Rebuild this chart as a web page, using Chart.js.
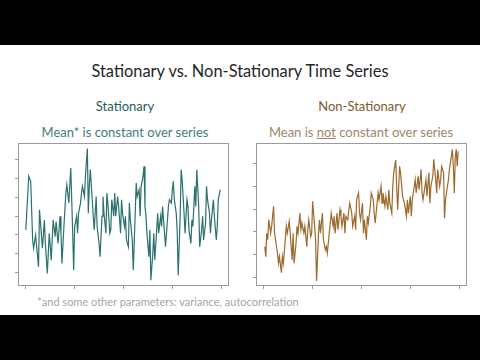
<!DOCTYPE html>
<html>
<head>
<meta charset="utf-8">
<script src="https://cdn.jsdelivr.net/npm/chart.js@4"></script>
<style>
    body { margin: 0; width: 480px; height: 360px; background: #000; position: relative; overflow: hidden; font-family: Lato, "Open Sans", sans-serif; }
    #slide { position: absolute; left: 0; top: 45px; width: 480px; height: 270px; background: #fff; }
    .txt { position: absolute; transform: translate(-50%, -50%); white-space: nowrap; }
    canvas { position: absolute; }
</style>
</head>
<body>
<div id="slide"></div>
<div class="txt" style="left:240px; top:70px; font-size:16.4px; color:#262626;">Stationary vs. Non-Stationary Time Series</div>
<div class="txt" style="left:125px; top:106px; font-size:13px; color:#1f5d5a;">Stationary</div>
<div class="txt" style="left:125px; top:132px; font-size:13px; color:#3f7d78;">Mean* is constant over series</div>
<div class="txt" style="left:362px; top:106px; font-size:13px; color:#7c5b2c;">Non-Stationary</div>
<div class="txt" style="left:361px; top:132px; font-size:13px; color:#a08566;">Mean is <u>not</u> constant over series</div>
<div class="txt" style="left:168px; top:301px; font-size:11px; color:#a5a5a5;">*and some other parameters: variance, autocorrelation</div>

<canvas id="leftChart" width="240" height="160" style="left:0px; top:140px;"></canvas>
<canvas id="rightChart" width="240" height="160" style="left:240px; top:140px;"></canvas>

<script>
// time index ticks (labels hidden, like the slide)
const xTicks = [0, 50, 100, 150, 200];
const leftYTicks = [-3, -2, -1, 0, 1, 2, 3];
const rightYTicks = [0, 1, 2, 3, 4, 5];

// stationary series
const stationaryT = [0, 3, 5, 7, 8, 10, 13, 14, 17, 19, 20, 22, 24, 26, 28, 30, 31, 33, 35, 36,
    37, 39, 41, 42, 44, 46, 47, 48, 49, 50, 52, 53, 54, 56, 57, 58, 60, 61, 63, 64,
    65, 66, 68, 69, 70, 72, 73, 75, 76, 78, 79, 80, 82, 83, 84, 86, 87, 88, 90, 91,
    92, 94, 95, 97, 98, 99, 101, 102, 103, 105, 106, 107, 109, 110, 112, 113, 114, 116, 117, 118,
    120, 121, 122, 123, 124, 126, 127, 128, 130, 131, 132, 134, 135, 136, 138, 139, 140, 142, 143, 145,
    146, 147, 149, 150, 151, 152, 154, 155, 156, 158, 159, 160, 162, 163, 165, 166, 167, 169, 170, 171,
    173, 174, 175, 177, 178, 180, 181, 182, 184, 185, 186, 188, 189, 190, 192, 193, 195, 196, 197, 199];
const stationaryV = [-0.73, 2.13, 1.86, -1.27, -1.71, -1.0, -2.7, 0.34, -1.71, -0.2, -1.45, -3.05, -0.91, -2.34, -0.2, -1.09, -0.29, -1.45, 0, -0.91,
    -2.52, -0.55, 1.23, 1.68, 0.7, 2.57, 0.88, -0.91, -2.88, -0.55, 0, -0.91, 0.16, 0.7, 1.23, 1.59, 1.05, 2.13, 3.6, 0.16,
    1.59, 2.48, 0.88, 0, -0.73, 1.05, -0.55, -1.45, -2.16, 0, 1.05, 0.16, -0.91, 1.23, 0.7, -0.91, -0.73, 0.88, 0, 1.23,
    0, 1.05, 0.52, -0.91, 0.88, 0.16, -0.55, 0, -1.27, -1.63, 0.7, -0.2, -1.27, -2.88, 0.16, 1.77, 1.05, 1.41, 0, 1.59,
    2.13, 2.66, 0.52, 0, -0.91, -2.16, -0.73, -3.41, -1.98, -0.91, -2.34, -0.73, 0.16, -0.91, 0, -0.55, 0.52, -0.91, -1.63, -0.2,
    0.52, 0.88, 0.7, 1.41, 1.86, 0.88, 0.16, -0.91, -3.14, 0, 2.48, 1.95, 0.16, -0.91, 0.88, 0.52, -0.73, -1.45, -0.2, -0.55,
    1.59, 0.52, 2.48, 0.52, -1.63, -0.73, 0, -1.27, -0.38, 1.59, 0.88, 0.16, -0.91, -0.2, 0.88, 0, -1.27, -0.55, 0.88, 1.41];

// non-stationary series (upward trend)
const trendT = [1, 2, 3, 4, 5, 7, 8, 10, 11, 12, 14, 15, 16, 18, 19, 20, 22, 23, 24, 26,
    27, 29, 30, 31, 33, 34, 35, 37, 38, 39, 41, 42, 44, 45, 46, 48, 49, 50, 52, 53,
    54, 56, 57, 58, 60, 61, 63, 64, 65, 67, 68, 69, 71, 72, 73, 75, 76, 78, 79, 80,
    82, 83, 84, 86, 87, 88, 90, 91, 93, 94, 95, 97, 98, 99, 101, 102, 103, 105, 106, 107,
    109, 110, 112, 113, 114, 116, 117, 118, 120, 121, 122, 124, 125, 127, 128, 129, 131, 132, 133, 135,
    136, 137, 139, 140, 142, 143, 144, 146, 147, 148, 150, 151, 152, 154, 155, 156, 158, 159, 161, 162,
    163, 165, 166, 167, 169, 170, 171, 173, 174, 176, 177, 178, 180, 181, 182, 184, 185, 186, 188, 189,
    190, 192, 193, 194, 195, 196, 197, 198, 199];
const trendV = [1.35, 0.91, 1.94, 1.65, 2.53, 1.94, 2.24, 3.12, 1.94, 1.65, 1.06, 0.62, 0.91, 0.2, 0.91, 0.62, 1.65, 2.24, 1.94, 2.46,
    1.94, 0.76, 1.94, 0.62, 1.5, 2.24, 1.94, 2.82, 2.09, 2.38, 1.94, 2.24, 1.35, 2.09, 2.53, 1.79, 1.94, 3.34, 2.24, 1.65,
    -0.16, 1.94, 2.53, 1.94, 2.82, 1.65, 1.21, 1.35, 1.06, 1.94, 2.38, 2.82, 2.24, 2.68, 1.94, 2.82, 2.09, 2.97, 2.68, 2.24,
    2.82, 1.94, 2.68, 2.53, 2.97, 3.26, 2.82, 2.24, 2.68, 2.09, 3.41, 3.71, 2.82, 2.53, 3.26, 1.94, 2.53, 1.65, 2.68, 2.38,
    3.12, 3.71, 3.41, 2.82, 2.38, 3.26, 3.71, 3.41, 4.0, 3.26, 3.71, 3.12, 3.56, 2.97, 3.85, 3.26, 2.82, 4.0, 4.59, 5.15,
    4.0, 2.97, 4.88, 4.59, 3.56, 3.41, 3.26, 2.68, 3.41, 2.82, 3.56, 2.68, 3.41, 4.0, 4.29, 3.71, 4.44, 3.85, 4.74, 3.71,
    3.41, 4.0, 4.29, 3.56, 4.59, 3.26, 4.0, 4.44, 5.18, 4.29, 3.71, 4.74, 4.0, 4.29, 4.88, 4.59, 2.6, 3.41, 4.0, 4.29,
    4.74, 5.32, 5.62, 4.88, 3.71, 5.32, 5.62, 4.88, 5.54];

const boxColor = '#9a9a9a';

// R-style box around the plot region
const boxPlugin = {
    id: 'plotBox',
    beforeDatasetsDraw(chart) {
        const a = chart.chartArea;
        const ctx = chart.ctx;
        ctx.save();
        ctx.strokeStyle = boxColor;
        ctx.lineWidth = 1;
        ctx.strokeRect(Math.round(a.left) + 0.5, Math.round(a.top) + 0.5,
            Math.round(a.right - a.left) - 1, Math.round(a.bottom - a.top) - 1);
        ctx.restore();
    }
};

function axis(tickValues, min, max) {
    return {
        type: 'linear',
        min: min,
        max: max,
        afterBuildTicks: (scale) => {
            scale.ticks = tickValues.map(v => ({ value: v }));
        },
        ticks: { display: false },
        grid: { display: true, drawOnChartArea: false, drawTicks: true, tickLength: 3, color: boxColor },
        border: { display: false }
    };
}

function makeChart(id, times, values, color, yTicks, yMin, yMax, pad) {
    const points = times.map((t, i) => ({ x: t, y: values[i] }));
    return new Chart(document.getElementById(id), {
        type: 'line',
        data: {
            datasets: [{
                data: points,
                borderColor: color,
                borderWidth: 1.2,
                pointRadius: 0,
                tension: 0,
                fill: false
            }]
        },
        options: {
            responsive: false,
            animation: false,
            layout: { padding: pad },
            plugins: { legend: { display: false }, tooltip: { enabled: false } },
            scales: {
                x: axis(xTicks, -8, 208),
                y: axis(yTicks, yMin, yMax)
            }
        },
        plugins: [boxPlugin]
    });
}

makeChart('leftChart', stationaryT, stationaryV, '#2a726c', leftYTicks, -3.72, 3.9,
    { left: 15, top: 3, right: 11, bottom: 11 });
makeChart('rightChart', trendT, trendV, '#9c6a2e', rightYTicks, -0.38, 5.9,
    { left: 13, top: 3, right: 13, bottom: 11 });
</script>
</body>
</html>
